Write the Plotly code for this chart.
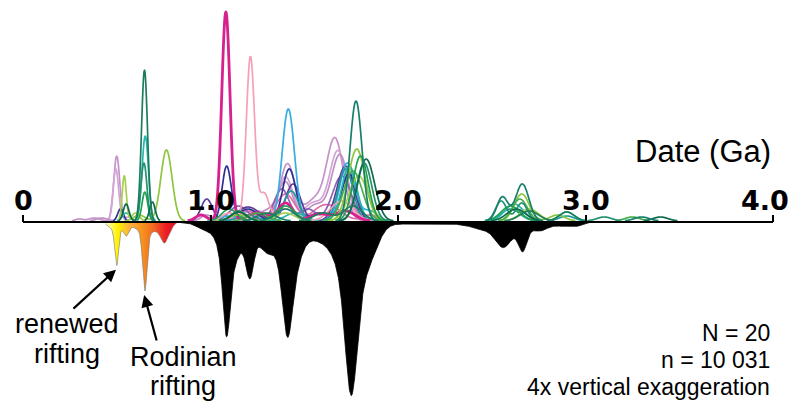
import numpy as np
import plotly.graph_objects as go

# ---------------- data ----------------
tick_values = [0, 1, 2, 3, 4]
tick_labels = ["0", "1.0", "2.0", "3.0", "4.0"]

# 20 detrital-zircon samples: colour + kernel-density components (age Ga, height, bandwidth Ga)
sample_colors = [
    "#c792c9", "#d3a5d6", "#bf8fc4", "#e36aa8", "#8a62b0",
    "#5c3b96", "#2e3192", "#35aee2", "#1d9c9c", "#27b5ad",
    "#f4a0b5", "#d6218f", "#a5cf4c", "#8cc63f", "#46ad4a",
    "#22a150", "#25906f", "#0e6a4a", "#1c7d5c", "#177f6c",
]
sample_widths = [1.7] * 11 + [2.8] + [1.7] * 8

sample_peak_ages = [
    [0.30, 0.38, 0.50, 1.25, 1.41, 1.55, 1.664],            # lilac
    [0.495, 0.56, 1.22, 1.40, 1.55, 1.68],                  # lilac 2
    [0.42, 0.98, 1.30, 1.40, 1.56, 1.69],                   # lilac 3
    [1.20, 1.40, 1.58, 1.65, 1.85],                         # light magenta
    [1.15, 1.38, 1.52, 1.70],                               # violet
    [0.98, 1.20, 1.44, 1.72],                               # purple
    [0.52, 1.086, 1.20, 1.42, 1.58, 1.74],                  # navy
    [1.10, 1.415, 1.73, 1.85],                              # light blue
    [1.20, 1.43, 1.72, 2.60, 2.90],                         # cyan
    [0.55, 0.652, 1.45, 1.74, 2.62],                        # teal
    [1.10, 1.213, 1.285, 1.40, 1.70],                       # pink
    [0.95, 1.082, 1.25, 1.40, 1.58, 1.72],                  # magenta
    [0.54, 0.60, 1.40, 1.79, 2.70],                         # yellow-green
    [0.62, 0.765, 1.15, 1.78, 2.66, 2.85],                  # light green
    [1.25, 1.76, 2.65, 2.90, 3.25],                         # mid green
    [0.65, 1.10, 1.40, 1.80, 2.60],                         # green
    [0.645, 1.15, 1.82, 2.55, 2.66, 3.10],                  # teal-green
    [0.55, 0.69, 1.15, 1.83, 2.63, 3.40],                   # dark green 2
    [0.648, 1.30, 1.60, 1.76, 2.70],                        # dark green
    [1.40, 1.776, 2.557, 2.663, 2.90, 3.30],                # dark teal
]
sample_peak_heights = [
    [2, 3, 65, 10, 57, 20, 82],
    [52, 4, 10, 44, 18, 70],
    [3, 6, 10, 38, 16, 66],
    [10, 27, 8, 12, 6],
    [15, 32, 12, 45],
    [22, 14, 37, 55],
    [12, 54, 12, 52, 8, 48],
    [5, 112, 58, 10],
    [6, 30, 52, 12, 5],
    [8, 85, 8, 55, 17],
    [8, 164, 27, 12, 20],
    [6, 209, 8, 18, 7, 10],
    [45, 8, 8, 45, 12],
    [6, 71, 6, 72, 27, 6],
    [8, 50, 22, 9, 4],
    [29, 12, 15, 65, 15],
    [58, 10, 58, 20, 18, 4],
    [17, 19, 9, 62, 12, 4],
    [151, 8, 8, 15, 10],
    [12, 120, 24, 37, 9, 4],
]
sample_peak_bandwidths = [
    [0.02, 0.03, 0.016, 0.05, 0.04, 0.05, 0.045],
    [0.015, 0.02, 0.05, 0.04, 0.05, 0.045],
    [0.03, 0.03, 0.05, 0.04, 0.05, 0.045],
    [0.05, 0.05, 0.05, 0.06, 0.04],
    [0.05, 0.04, 0.04, 0.05],
    [0.03, 0.06, 0.04, 0.045],
    [0.015, 0.024, 0.05, 0.035, 0.05, 0.04],
    [0.05, 0.033, 0.04, 0.04],
    [0.05, 0.04, 0.04, 0.05, 0.04],
    [0.02, 0.017, 0.05, 0.04, 0.05],
    [0.04, 0.022, 0.025, 0.05, 0.06],
    [0.03, 0.022, 0.05, 0.04, 0.05, 0.05],
    [0.011, 0.02, 0.05, 0.05, 0.05],
    [0.03, 0.03, 0.05, 0.045, 0.04, 0.04],
    [0.05, 0.05, 0.04, 0.04, 0.04],
    [0.015, 0.04, 0.05, 0.04, 0.05],
    [0.016, 0.04, 0.04, 0.03, 0.03, 0.04],
    [0.015, 0.015, 0.04, 0.045, 0.05, 0.04],
    [0.016, 0.05, 0.05, 0.05, 0.05],
    [0.05, 0.032, 0.03, 0.035, 0.04, 0.04],
]

# aggregate (all samples) plotted downward: black part
total_ages = [0.97, 1.085, 1.095, 1.20, 1.21, 1.30, 1.41, 1.42, 1.42, 1.58,
              1.75, 1.76, 1.87, 2.10, 2.35, 2.46, 2.56, 2.62, 2.665, 2.76, 2.88, 2.96]
total_depths = [6, 66, 45, 12, 36, 18, 54, 52, 10, 8,
                100, 70, 8, 2, 2, 6, 18, 8, 22, 7, 4, 3]
total_bandwidths = [0.04, 0.018, 0.045, 0.05, 0.02, 0.035, 0.024, 0.05, 0.24, 0.06,
                    0.03, 0.075, 0.04, 0.1, 0.08, 0.06, 0.04, 0.08, 0.022, 0.04, 0.05, 0.03]

# aggregate, rifting-age part (coloured)
rift_ages = [0.49, 0.50, 0.55, 0.60, 0.65, 0.66, 0.72, 0.755, 0.79]
rift_depths = [8, 36, 12, 4, 58, 10, 5, 18, 4]
rift_bandwidths = [0.03, 0.010, 0.015, 0.03, 0.012, 0.035, 0.03, 0.02, 0.015]
rift_colors = ["#fffbd0", "#fff200", "#fbb040", "#f7941d", "#f26522", "#ed1c24", "#d7141e"]

stats_lines = ["N = 20", "n = 10 031", "4x vertical exaggeration"]


def kde(grid, ages, heights, bws):
    out = np.zeros_like(grid)
    for a, h, s in zip(ages, heights, bws):
        out += h * np.exp(-0.5 * ((grid - a) / s) ** 2)
    return out


grid = np.arange(0.0, 4.0001, 0.002)
PX_PER_GA = 187.5
x_min = -23 / PX_PER_GA
x_max = x_min + 791 / PX_PER_GA
y_top, y_bottom = 222, -180

fig = go.Figure()

# black aggregate
g_black = grid[(grid >= 0.84) & (grid <= 3.05)]
d_black = kde(g_black, total_ages, total_depths, total_bandwidths)
fig.add_trace(go.Scatter(x=g_black, y=-d_black, mode="lines", fill="tozeroy",
                         fillcolor="black", line=dict(color="black", width=0.8),
                         hoverinfo="skip", showlegend=False))

# coloured rifting aggregate
g_rift = grid[(grid >= 0.44) & (grid <= 0.83)]
d_rift = kde(g_rift, rift_ages, rift_depths, rift_bandwidths)
n_rc = len(rift_colors)
fig.add_trace(go.Scatter(
    x=g_rift, y=-d_rift, mode="lines", fill="tozeroy",
    fillgradient=dict(type="horizontal",
                      colorscale=[[i / (n_rc - 1), c] for i, c in enumerate(rift_colors)]),
    line=dict(color="#777777", width=0.6), hoverinfo="skip", showlegend=False))

# sample curves
for col, lw, ages, hs, bws in zip(sample_colors, sample_widths, sample_peak_ages,
                                  sample_peak_heights, sample_peak_bandwidths):
    y = kde(grid, ages, hs, bws)
    y = np.where(y < 0.3, np.nan, y + 1.0)
    fig.add_trace(go.Scatter(x=grid, y=y, mode="lines",
                             line=dict(color=col, width=lw, shape="spline"),
                             hoverinfo="skip", showlegend=False))

# axis baseline from first to last tick
fig.add_trace(go.Scatter(x=[tick_values[0], tick_values[-1]], y=[0, 0], mode="lines",
                         line=dict(color="black", width=2), hoverinfo="skip",
                         showlegend=False))

annotations = []
for i, (tv, tl) in enumerate(zip(tick_values, tick_labels)):
    annotations.append(dict(x=tv, y=0, xref="x", yref="y", text="<b>" + tl + "</b>",
                            showarrow=False, yanchor="middle", xanchor="center",
                            yshift=22, xshift=(-8 if i == len(tick_values) - 1 else 0),
                            font=dict(family="DejaVu Sans", size=27, color="black")))
annotations.append(dict(x=773 / 791, y=(402 - 151) / 402, xref="paper", yref="paper",
                        text="Date (Ga)", showarrow=False, xanchor="right",
                        yanchor="middle",
                        font=dict(family="Liberation Sans, Arial", size=31,
                                  color="black")))

label_font = dict(family="Liberation Sans, Arial", size=27, color="black")
for txt, xx, yy in [("renewed", 0.2347, -102), ("rifting", 0.232, -132),
                    ("Rodinian", 0.856, -135), ("rifting", 0.851, -164)]:
    annotations.append(dict(x=xx, y=yy, xref="x", yref="y", text=txt, showarrow=False,
                            xanchor="center", yanchor="middle", borderpad=0,
                            font=label_font))

# arrows pointing to the two rifting peaks
rift_peak_idx = [1, 4]
tails = [(0.261, -88), (0.715, -120)]
for idx, (tx, ty) in zip(rift_peak_idx, tails):
    pa = rift_ages[idx]
    pd_ = kde(np.array([pa]), rift_ages, rift_depths, rift_bandwidths)[0]
    annotations.append(dict(x=pa - 0.004, y=-pd_ - 4, xref="x", yref="y", ax=tx, ay=ty,
                            axref="x", ayref="y", text="", showarrow=True,
                            arrowhead=2, arrowsize=1.1, arrowwidth=2.2,
                            arrowcolor="black"))

for k, line in enumerate(stats_lines):
    annotations.append(dict(x=772 / 791, y=(402 - (333 + 27 * k)) / 402, xref="paper",
                            yref="paper", text=line, showarrow=False, xanchor="right",
                            yanchor="middle",
                            font=dict(family="Liberation Sans, Arial", size=23,
                                      color="black")))

fig.update_layout(
    width=791, height=402,
    margin=dict(l=0, r=0, t=0, b=0),
    paper_bgcolor="white", plot_bgcolor="white",
    xaxis=dict(range=[x_min, x_max], anchor="free",
               position=(0 - y_bottom) / (y_top - y_bottom), side="top",
               ticks="outside", ticklen=7, tickwidth=2, tickcolor="black",
               tickvals=tick_values, showticklabels=False, showgrid=False,
               zeroline=False, showline=False, fixedrange=True),
    yaxis=dict(range=[y_bottom, y_top], visible=False, fixedrange=True),
    annotations=annotations,
    showlegend=False,
)

fig.write_html("out.html", config={"displayModeBar": False},
               post_script="document.body.style.margin='0px';"
                           "document.body.style.overflow='hidden';")
